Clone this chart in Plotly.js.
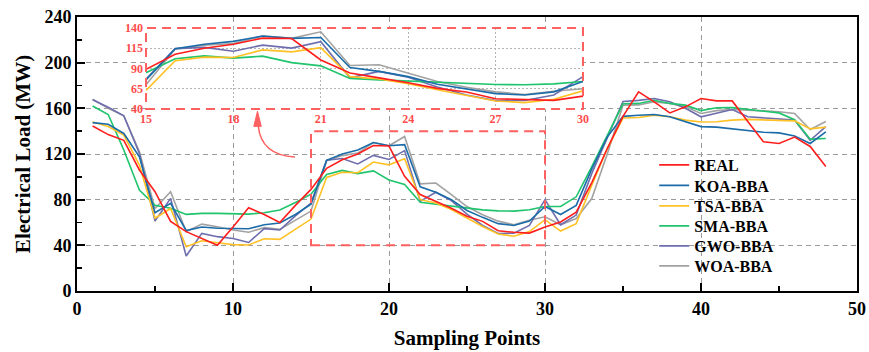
<!DOCTYPE html>
<html>
<head>
<meta charset="utf-8">
<script src="https://cdn.plot.ly/plotly-3.0.1.min.js"></script>
<style>
  html, body { margin: 0; padding: 0; background: #fff; }
  #chart { width: 869px; height: 352px; }
</style>
</head>
<body>
<div id="chart"></div>
<script>
// Sampling points 1..48
const samplePoints = [1,2,3,4,5,6,7,8,9,10,11,12,13,14,15,16,17,18,19,20,21,22,23,24,25,26,27,28,29,30,31,32,33,34,35,36,37,38,39,40,41,42,43,44,45,46,47,48];

// Electrical load (MW) per series
const realLoad = [144.5,137,132,106,87,61,52,46,40,56,73,67,60,75,89,107.5,115,120,127.5,127,100.5,84.5,78.5,72.5,65.5,61,52.8,51.4,50.7,56,60.5,69,95,125,153,174.4,165.7,156,161.3,168.6,166.5,166.5,148.4,130.7,129.2,134.8,126.6,109];
const koaBBA   = [147.5,146,138,117.5,68.5,76.7,53,56,55,54.7,54.5,58,59.5,67,76,114.5,120,123.5,130,127.2,128.2,91.2,86.5,80,70.5,64.5,59,57.4,61.2,74,67,75,107,135,153,154,154.6,152.6,148.2,144,143.5,142,140.9,139,138.5,135.8,129.2,139.4];
const tsaBBA   = [148,144,136.5,110.3,63.7,72.3,38.7,44,42.3,40.6,40.3,45.8,45.2,54,63,99.5,104,103.6,113,110.5,115.8,80,77,71.4,63.7,56.5,50,48,52,62.5,52.5,59,92.7,125,151.5,152,154,152.6,149.7,148,148.2,149.7,150.3,149.7,149.7,149,142,143.5];
const smaBBA   = [162,154.6,123.5,88.4,75,72.5,67.1,68,68,67.5,67.3,68.6,71,77.5,84.8,102,105.6,102.8,105.2,97.3,93.3,77.8,76,74.6,72.9,71.1,70.2,70,71.1,74,74,82.5,109,136.5,164,164.3,167,164.3,162.8,158,160.5,160.6,159,157.5,156,150,133,133.6];
const gwoBBA   = [167.5,161,153.5,120.4,61.3,81.1,30.6,50.5,47.6,46,42.5,54.6,53.4,65.8,77,114.5,116,111.3,118.8,115.2,123,78.5,86.5,79.2,67.3,57.4,50.4,50.6,57.4,80,58,66.5,103,135,166,167,168.6,165.7,160,152.6,155.5,159,152.6,151.7,151,149.7,132,144];
const woaBBA   = [168,160,153.5,122,72.3,86.9,51.9,58.6,56.3,53.5,51.5,55.5,54,62.2,70,114,118.6,120.8,130,127.2,135.3,93.8,94.6,84.5,74,66.8,61.2,58,62,65,58,63.5,81,120.5,162.8,163,165.7,164.3,161.3,155.5,158,159,158.7,157.8,157,155.5,141.5,148.5];

// Zoomed window shown in the inset
const zoomStart = 15, zoomEnd = 30;

// Drawing order (bottom to top); legend rows listed separately
const seriesNames  = ['WOA-BBA','GWO-BBA','SMA-BBA','TSA-BBA','KOA-BBA','REAL'];
const seriesValues = [woaBBA, gwoBBA, smaBBA, tsaBBA, koaBBA, realLoad];
const seriesColors = ['#A2A2A2','#6E6EAE','#1FC46C','#FFC125','#1B6CA8','#FF1E1E'];
const legendRow    = [5, 4, 3, 2, 1, 0];   // REAL on the first row

const serif = 'Liberation Serif, Times New Roman, serif';
const insetRed = '#FF4B4B';
const boxRed = '#FF6060';
const legendIds = ['legend','legend2','legend3','legend4','legend5','legend6'];

const traces = [];
seriesNames.forEach((name, i) => {
  traces.push({
    type: 'scatter', mode: 'lines', name: name,
    x: samplePoints, y: seriesValues[i],
    xaxis: 'x', yaxis: 'y',
    legend: legendIds[legendRow[i]],
    line: { color: seriesColors[i], width: 1.6 }
  });
});
// Inset: same series restricted to the zoom window
const i0 = samplePoints.indexOf(zoomStart), i1 = samplePoints.indexOf(zoomEnd) + 1;
seriesNames.forEach((name, i) => {
  traces.push({
    type: 'scatter', mode: 'lines', name: name, showlegend: false,
    x: samplePoints.slice(i0, i1), y: seriesValues[i].slice(i0, i1),
    xaxis: 'x2', yaxis: 'y2',
    line: { color: seriesColors[i], width: 1.6 }
  });
});

const gridDash = '5px,4px';

const layout = {
  width: 869, height: 352,
  margin: { l: 77, r: 12, t: 17, b: 61 },
  paper_bgcolor: '#fff', plot_bgcolor: '#fff',
  font: { family: serif, color: '#000' },
  showlegend: true,
  xaxis: {
    range: [0, 50], dtick: 10, tick0: 0,
    showline: true, linecolor: '#000', linewidth: 2, mirror: true,
    ticks: 'inside', ticklen: 8, tickwidth: 2, tickcolor: '#000',
    minor: { dtick: 5, ticks: 'inside', ticklen: 5, tickwidth: 1.5, tickcolor: '#000', showgrid: false },
    showgrid: true, gridcolor: '#9a9a9a', gridwidth: 1, griddash: gridDash,
    zeroline: false,
    tickfont: { family: serif, size: 18, weight: 'bold', color: '#000' },
    title: { text: 'Sampling Points', font: { family: serif, size: 21, weight: 'bold', color: '#000' }, standoff: 13 }
  },
  yaxis: {
    range: [0, 240], dtick: 40, tick0: 0,
    showline: true, linecolor: '#000', linewidth: 2, mirror: true,
    ticks: 'inside', ticklen: 8, tickwidth: 2, tickcolor: '#000',
    minor: { dtick: 20, ticks: 'inside', ticklen: 5, tickwidth: 1.5, tickcolor: '#000', showgrid: false },
    showgrid: true, gridcolor: '#9a9a9a', gridwidth: 1, griddash: gridDash,
    zeroline: false,
    tickfont: { family: serif, size: 18, weight: 'bold', color: '#000' },
    title: { text: 'Electrical Load (MW)', font: { family: serif, size: 21, weight: 'bold', color: '#000' }, standoff: 8 }
  },
  xaxis2: {
    domain: [0.0885, 0.6487], anchor: 'y2',
    range: [zoomStart, zoomEnd], dtick: 3, tick0: 15,
    showline: false, ticks: '', zeroline: false,
    showgrid: true, gridcolor: '#b4b4b4', gridwidth: 1, griddash: '2px,2px',
    ticklabelstandoff: 1,
    tickfont: { family: serif, size: 12, weight: 'bold', color: insetRed }
  },
  yaxis2: {
    domain: [0.664, 0.960], anchor: 'x2',
    range: [40, 140], dtick: 25, tick0: 40,
    showline: false, ticks: '', zeroline: false,
    showgrid: true, gridcolor: '#b4b4b4', gridwidth: 1, griddash: '2px,2px',
    ticklabelstandoff: 2,
    tickfont: { family: serif, size: 12, weight: 'bold', color: insetRed }
  },
  shapes: [
    // zoom window on the main axes
    { type: 'rect', xref: 'x', yref: 'y', x0: zoomStart, x1: zoomEnd, y0: 40, y1: 140,
      line: { color: boxRed, width: 2, dash: '9px,6px' }, fillcolor: 'rgba(0,0,0,0)', layer: 'above' },
    // inset frame
    { type: 'rect', xref: 'x2 domain', yref: 'y2 domain', x0: 0, x1: 1, y0: 0, y1: 1,
      line: { color: boxRed, width: 2, dash: '9px,6px' }, fillcolor: 'rgba(0,0,0,0)', layer: 'above' },
    // curved pointer from the zoom window to the inset
    { type: 'path', xref: 'x', yref: 'y', path: 'M 11.62,144.7 Q 11.79,119 13.97,117.3',
      line: { color: boxRed, width: 1.5 }, layer: 'above' },
    { type: 'path', xref: 'x', yref: 'y', path: 'M 11.57,157.5 L 11.33,144.2 L 11.81,144.2 Z',
      line: { color: boxRed, width: 1 }, fillcolor: boxRed, layer: 'above' }
  ]
};

// One single-entry legend per row so the rows sit at a fixed pitch
const rowCentersPx = [165, 185.5, 206, 226, 246, 266];
const plotTop = 17, plotH = 274;
legendIds.forEach((id, r) => {
  layout[id] = {
    x: 0.740, xanchor: 'left',
    y: 1 - (rowCentersPx[r] - plotTop) / plotH, yanchor: 'middle',
    bgcolor: 'rgba(0,0,0,0)', borderwidth: 0,
    font: { family: serif, size: 16, weight: 'bold', color: '#000' }
  };
});

Plotly.newPlot('chart', traces, layout, { displayModeBar: false, staticPlot: true });
</script>
</body>
</html>
